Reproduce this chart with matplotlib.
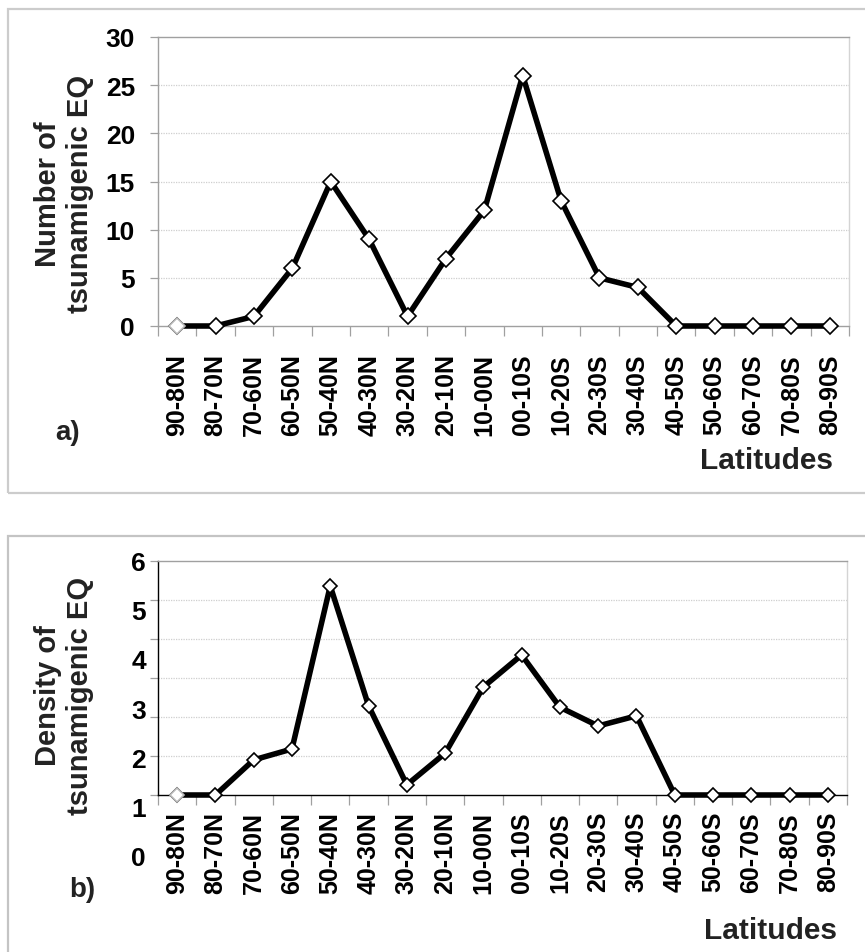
import matplotlib.pyplot as plt
from matplotlib.patches import Rectangle
import numpy as np

# latitude bands (north to south)
lat_bands = ['90-80N', '80-70N', '70-60N', '60-50N', '50-40N', '40-30N',
             '30-20N', '20-10N', '10-00N', '00-10S', '10-20S', '20-30S',
             '30-40S', '40-50S', '50-60S', '60-70S', '70-80S', '80-90S']

# number of tsunamigenic earthquakes per band
eq_count = [0, 0, 1, 6, 15, 9, 1, 7, 12, 26, 13, 5, 4, 0, 0, 0, 0, 0]

# density of tsunamigenic earthquakes per band
eq_density = [0, 0, 0.90, 1.18, 5.36, 2.29, 0.26, 1.07, 2.77, 3.59,
              2.25, 1.77, 2.03, 0, 0, 0, 0, 0]

count_ticks = [0, 5, 10, 15, 20, 25, 30]
density_ticks = [0, 1, 2, 3, 4, 5, 6]

plt.rcParams['font.family'] = ['Liberation Sans', 'DejaVu Sans']
plt.rcParams['font.weight'] = 'bold'

W, H = 865, 953
fig = plt.figure(figsize=(W / 100, H / 100), dpi=100)

# light grey chart-area frames around each panel
fig.patches.append(Rectangle((8 / W, 1 - 494 / H), 1.0, 484 / H,
                             transform=fig.transFigure, fill=False,
                             ec='#cccccc', lw=1.6))
fig.patches.append(Rectangle((8 / W, -0.2), 1.0, 0.2 + 1 - 537 / H,
                             transform=fig.transFigure, fill=False,
                             ec='#c4c4c4', lw=1.6))

ax1 = fig.add_axes([158 / W, 1 - 327 / H, 691 / W, 289 / H])
ax2 = fig.add_axes([158 / W, 1 - 796 / H, 689 / W, 234 / H])

x = np.arange(len(lat_bands))


def setup(ax, values, ymax, grid_vals, xpad, ms, axis_col):
    ax.set_xlim(-0.5, len(lat_bands) - 0.5)
    ax.set_ylim(0, ymax)
    for g in grid_vals:
        ax.axhline(g, color='#cfcfcf', lw=0.9, ls=(0, (1, 1)), zorder=0)
    ax.plot(x, values, color='black', lw=4.0, marker='D', ms=ms,
            mfc='white', mec='black', mew=1.2, clip_on=False, zorder=3)
    # first band marker is drawn faint
    ax.plot(x[:1], values[:1], ls='none', marker='D', ms=ms, mfc='white',
            mec='#b8b8b8', mew=1.2, clip_on=False, zorder=4)

    ax.set_xticks(x)
    ax.set_xticklabels(lat_bands, rotation=90, fontsize=18, fontweight='bold')
    ax.set_xticks(np.arange(-0.5, len(lat_bands)), minor=True)
    ax.tick_params(axis='x', which='major', length=0, pad=xpad)
    ax.tick_params(axis='x', which='minor', length=7, color='#a0a0a0',
                   width=0.9, direction='out')
    ax.tick_params(axis='y', length=6, color='#a0a0a0', width=0.9)

    ax.spines['top'].set_color('#a0a0a0')
    ax.spines['right'].set_color('#d4d4d4')
    ax.spines['left'].set_color(axis_col)
    ax.spines['bottom'].set_color(axis_col)
    for s in ax.spines.values():
        s.set_linewidth(1.0)


# a) number of tsunamigenic earthquakes
setup(ax1, eq_count, 30, count_ticks[1:-1], 19.5, 8.5, '#a0a0a0')
ax1.set_yticks(count_ticks)
ax1.set_yticklabels([str(t) for t in count_ticks], fontsize=19,
                    fontweight='bold')
ax1.tick_params(axis='y', pad=10.5)

# b) density of tsunamigenic earthquakes
setup(ax2, eq_density, 6, density_ticks[1:-1], 11.5, 6.8, 'black')
ax2.set_yticks(density_ticks)
ax2.set_yticklabels([])
label_stretch = 49.2 / 39.0
for t in density_ticks:
    ypos = 5.95 - (6 - t) * label_stretch
    ax2.text(-12 / 689, ypos, str(t), transform=ax2.get_yaxis_transform(),
             ha='right', va='center', fontsize=19, fontweight='bold',
             clip_on=False)

# axis titles and panel letters
fig.text(64 / W, 1 - 194 / H, 'Number of\ntsunamigenic EQ', rotation=90,
         ha='center', va='center', multialignment='center', fontsize=21,
         fontweight='bold', color='#222222')
fig.text(64 / W, 1 - 696 / H, 'Density of\ntsunamigenic EQ', rotation=90,
         ha='center', va='center', multialignment='center', fontsize=21,
         fontweight='bold', color='#222222')
fig.text(766 / W, 1 - 461 / H, 'Latitudes', ha='center', va='center',
         fontsize=21.5, fontweight='bold', color='#222222')
fig.text(771 / W, 1 - 931 / H, 'Latitudes', ha='center', va='center',
         fontsize=21.5, fontweight='bold', color='#222222')
fig.text(68 / W, 1 - 433 / H, 'a)', ha='center', va='center',
         fontsize=20, fontweight='bold', color='#222222')
fig.text(82 / W, 1 - 890 / H, 'b)', ha='center', va='center',
         fontsize=20, fontweight='bold', color='#222222')

fig.savefig('out.png', dpi=100)
